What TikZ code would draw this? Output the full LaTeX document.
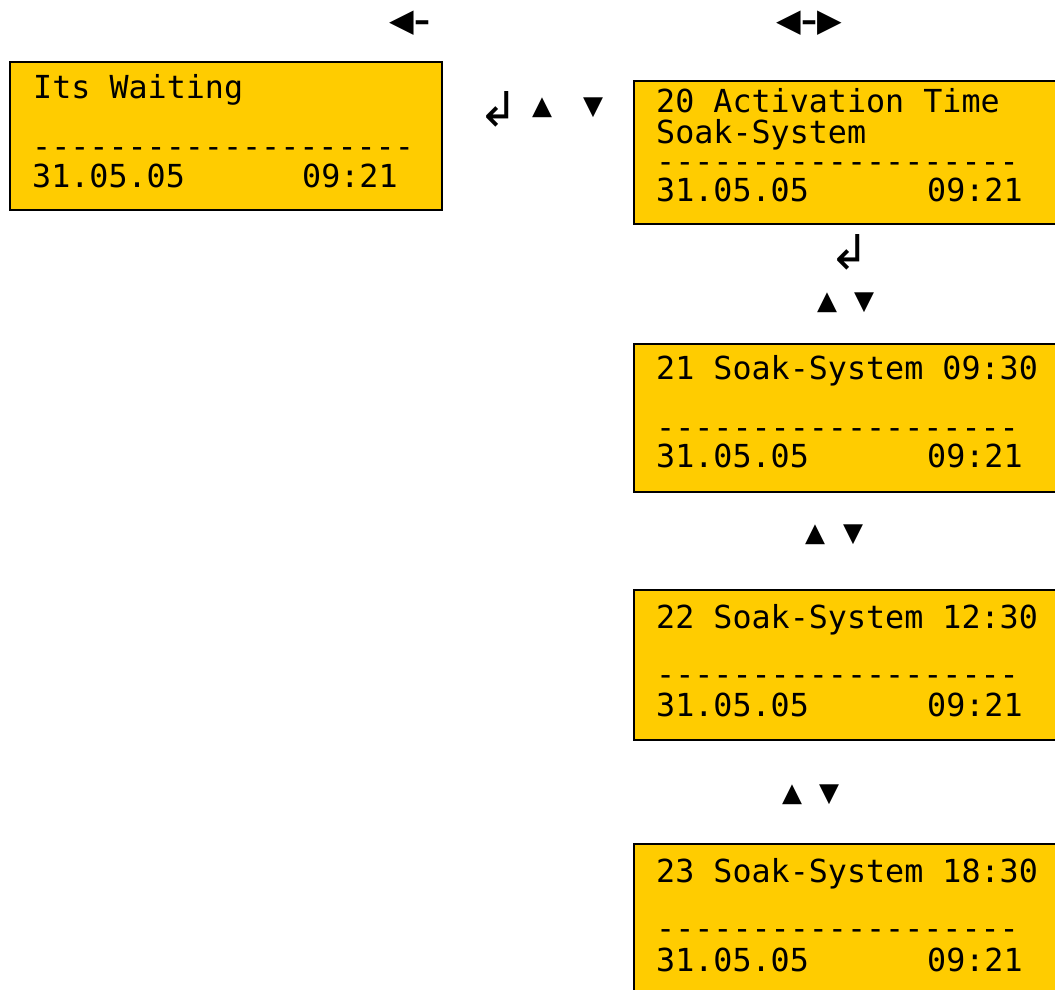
\documentclass[tikz,border=0pt]{standalone}
\usepackage{fontspec}
\newfontfamily\lcd{DejaVu Sans Mono}
\newfontfamily\symf{DejaVu Sans}
\newfontfamily\symb{DejaVu Sans Bold}
\definecolor{lcdfill}{HTML}{FFCC00}
\begin{document}
\begin{tikzpicture}[x=1pt,y=-1pt,
  lcdbox/.style={draw=black,line width=2.2pt,fill=lcdfill},
  lcdtxt/.style={anchor=base west,inner sep=0pt,text height=23pt,text depth=0pt,font=\lcd\fontsize{31.7}{32}\selectfont},
  lcddash/.style={lcdtxt,text height=13pt},
  keysym/.style={inner sep=0pt,font=\symf\fontsize{26}{28}\selectfont},
  entsym/.style={inner sep=0pt,font=\symf\fontsize{48}{50}\selectfont},
  navsym/.style={inner sep=0pt,font=\symb\fontsize{32}{34}\selectfont}]
\useasboundingbox (0,0) rectangle (1055,989);
\clip (0,0) rectangle (1055,989);
% left box
\draw[lcdbox] (10,62) rectangle (442,210);
\node[lcdtxt] (l1) at (33,98) {Its Waiting};
\node[lcddash] (ld) at (32,157) {-{}-{}-{}-{}-{}-{}-{}-{}-{}-{}-{}-{}-{}-{}-{}-{}-{}-{}-{}-};
\node[lcdtxt] (ldate) at (32,187) {31.05.05};
\node[lcdtxt] (ltime) at (302,187) {09:21};
% box 20
\draw[lcdbox] (634,81) rectangle (1070,224);
\node[lcdtxt] (a1) at (656,112) {20 Activation Time};
\node[lcdtxt] (a2) at (656,143) {Soak-System};
\node[lcddash] (ad) at (656,172) {-{}-{}-{}-{}-{}-{}-{}-{}-{}-{}-{}-{}-{}-{}-{}-{}-{}-{}-};
\node[lcdtxt] (adate) at (656,201) {31.05.05};
\node[lcdtxt] (atime) at (927,201) {09:21};
% box 21
\draw[lcdbox] (634,344) rectangle (1070,492);
\node[lcdtxt] (b1) at (656,379) {21 Soak-System 09:30};
\node[lcddash] (bd) at (656,438) {-{}-{}-{}-{}-{}-{}-{}-{}-{}-{}-{}-{}-{}-{}-{}-{}-{}-{}-};
\node[lcdtxt] (bdate) at (656,467) {31.05.05};
\node[lcdtxt] (btime) at (927,467) {09:21};
% box 22
\draw[lcdbox] (634,590) rectangle (1070,740);
\node[lcdtxt] (c1) at (656,628) {22 Soak-System 12:30};
\node[lcddash] (cd) at (656,685) {-{}-{}-{}-{}-{}-{}-{}-{}-{}-{}-{}-{}-{}-{}-{}-{}-{}-{}-};
\node[lcdtxt] (cdate) at (656,716) {31.05.05};
\node[lcdtxt] (ctime) at (927,716) {09:21};
% box 23
\draw[lcdbox] (634,844) rectangle (1070,1000);
\node[lcdtxt] (e1) at (656,882) {23 Soak-System 18:30};
\node[lcddash] (ed) at (656,939) {-{}-{}-{}-{}-{}-{}-{}-{}-{}-{}-{}-{}-{}-{}-{}-{}-{}-{}-};
\node[lcdtxt] (edate) at (656,971) {31.05.05};
\node[lcdtxt] (etime) at (927,971) {09:21};
% navigation symbols
\node[navsym] (n1) at (410,23) {◀–};
\node[navsym] (n2) at (809,23) {◀–▶};
\node[entsym] (k1) at (499,109) {↲};
\node[keysym] (k2) at (542,108) {▲};
\node[keysym] (k3) at (593,108) {▼};
\node[entsym] (k4) at (850,252) {↲};
\node[keysym] (k5) at (827,303) {▲};
\node[keysym] (k6) at (864,303) {▼};
\node[keysym] (k7) at (815,535) {▲};
\node[keysym] (k8) at (853,535) {▼};
\node[keysym] (k9) at (792,795) {▲};
\node[keysym] (k10) at (829,795) {▼};
\end{tikzpicture}
\end{document}
